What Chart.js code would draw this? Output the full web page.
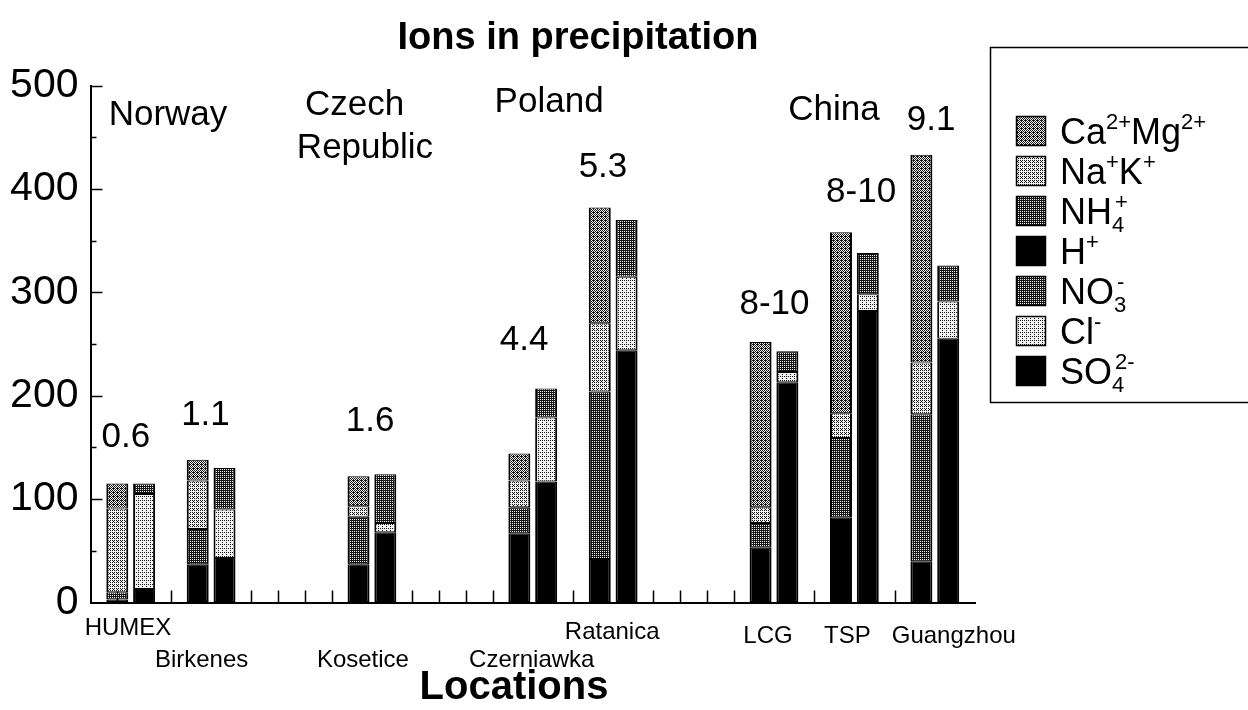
<!DOCTYPE html>
<html>
<head>
<meta charset="utf-8">
<script src="https://cdn.jsdelivr.net/npm/chart.js@4.4.0/dist/chart.umd.min.js"></script>
<style>
  html, body { margin: 0; padding: 0; background: #fff; }
  #wrap { width: 1248px; height: 710px; position: relative; }
</style>
</head>
<body>
<div id="wrap"><canvas id="c" width="1248" height="710"></canvas></div>
<script>
// ---- data -------------------------------------------------------------
const locations = ['HUMEX', 'Birkenes', 'Kosetice', 'Czerniawka', 'Ratanica', 'LCG', 'TSP', 'Guangzhou'];

// cations, bottom to top of the left bar of each site
const hPlus = [3, 37, 37, 67, 42, 53, 82, 40];
const nh4   = [7, 34, 46, 25, 162, 24, 77, 142];
const naK   = [81, 47, 10, 26, 66, 15, 24, 50];
const caMg  = [24, 20, 29, 26, 112, 160, 175, 201];

// anions, bottom to top of the right bar of each site
const so4 = [13, 43, 68, 117, 244, 213, 282, 255];
const cl  = [92, 47, 9, 62, 71, 10, 16, 36];
const no3 = [10, 40, 47, 28, 55, 20, 40, 35];

const siteNotes = ['0.6', '1.1', '1.6', '4.4', '5.3', '8-10', '8-10', '9.1'];
const regionNames = ['Norway', 'Czech', 'Republic', 'Poland', 'China'];
const yTickValues = [0, 100, 200, 300, 400, 500];

// ---- layout -----------------------------------------------------------
const FONT = "'Liberation Sans', Arial, Helvetica, sans-serif";
const gapSlots = [1, 1, 4, 4, 1, 4, 1, 1];   // empty axis slots before each site
const trailingSlots = 1;

const labels = [];
const cationAt = [];
locations.forEach((loc, i) => {
  for (let g = 0; g < gapSlots[i]; g++) labels.push('');
  cationAt.push(labels.length);
  labels.push(loc + ' cations');
  labels.push(loc + ' anions');
});
for (let g = 0; g < trailingSlots; g++) labels.push('');

function spread(values, side) {
  const arr = new Array(labels.length).fill(null);
  values.forEach((v, i) => { arr[cationAt[i] + side] = v; });
  return arr;
}

// ordered-dither tiles give the stippled halftone greys
const bayer = [0, 8, 2, 10, 12, 4, 14, 6, 3, 11, 1, 9, 15, 7, 13, 5];
const mainCtx = document.getElementById('c').getContext('2d');
function stipple(darkCount) {
  const t = document.createElement('canvas');
  t.width = t.height = 4;
  const g = t.getContext('2d');
  g.fillStyle = '#f2f2f2';
  g.fillRect(0, 0, 4, 4);
  g.fillStyle = '#151515';
  for (let i = 0; i < 16; i++) if (bayer[i] < darkCount) g.fillRect(i % 4, Math.floor(i / 4), 1, 1);
  return mainCtx.createPattern(t, 'repeat');
}
const fills = {
  caMg: stipple(9),
  naK: stipple(5),
  nh4: stipple(12),
  h: '#000',
  no3: stipple(12),
  cl: stipple(3),
  so4: '#000'
};

const datasets = [
  { key: 'h',    label: 'H⁺',        data: spread(hPlus, 0), backgroundColor: fills.h },
  { key: 'nh4',  label: 'NH₄⁺',      data: spread(nh4, 0),   backgroundColor: fills.nh4 },
  { key: 'naK',  label: 'Na⁺K⁺',     data: spread(naK, 0),   backgroundColor: fills.naK },
  { key: 'caMg', label: 'Ca²⁺Mg²⁺',  data: spread(caMg, 0),  backgroundColor: fills.caMg },
  { key: 'so4',  label: 'SO₄²⁻',     data: spread(so4, 1),   backgroundColor: fills.so4 },
  { key: 'cl',   label: 'Cl⁻',       data: spread(cl, 1),    backgroundColor: fills.cl },
  { key: 'no3',  label: 'NO₃⁻',      data: spread(no3, 1),   backgroundColor: fills.no3 }
];

// legend entries, top to bottom, with ^{} superscripts and _{} subscripts
const legendOrder = ['caMg', 'naK', 'nh4', 'h', 'no3', 'cl', 'so4'];
const legendMarkup = {
  caMg: 'Ca^{2+}Mg^{2+}', naK: 'Na^{+}K^{+}', nh4: 'NH_{4}^{+}', h: 'H^{+}',
  no3: 'NO_{3}^{-}', cl: 'Cl^{-}', so4: 'SO_{4}^{2-}'
};

// text anchors: category-index offsets and value heights
const noteDx = [0.32, 0.29, 0.43, 0.18, 0.12, 0.52, 0.75, 0.36];
const noteY  = [160, 181, 175, 254, 421, 288, 397, 466];
const regionAnchors = [[2.89, 471], [9.85, 481], [10.24, 439], [17.11, 484], [27.74, 476]];
const siteLabelDx = [-2.7, -9.5, -9, -1, -1, -6, -7, 19];
const siteLabelRow = [628, 660, 660, 660, 632, 636, 636, 636];

function parseMarkup(s) {
  const parts = [];
  const re = /(\^|_)\{([^}]*)\}|([^\^_]+)/g;
  let m;
  while ((m = re.exec(s))) {
    if (m[3]) parts.push({ t: m[3], k: 'n' });
    else parts.push({ t: m[2], k: m[1] === '^' ? 'sup' : 'sub' });
  }
  return parts;
}

const decorations = {
  id: 'decorations',
  beforeDatasetsDraw(chart) {
    const { ctx, chartArea: a, scales: { x, y } } = chart;
    ctx.save();
    ctx.strokeStyle = '#000';
    ctx.lineWidth = 1.5;
    ctx.beginPath();
    for (let i = 1; i < labels.length - 1; i++) {
      const px = Math.round(x.getPixelForValue(i)) + 0.5;
      ctx.moveTo(px, a.bottom);
      ctx.lineTo(px, a.bottom - 12);
    }
    for (let v = 50; v <= 500; v += 50) {
      const py = Math.round(y.getPixelForValue(v)) + 0.5;
      ctx.moveTo(a.left, py);
      ctx.lineTo(a.left + (v % 100 === 0 ? 12 : 6), py);
    }
    ctx.stroke();
    ctx.restore();
  },
  afterDraw(chart) {
    const { ctx, scales: { x, y } } = chart;
    ctx.save();
    ctx.fillStyle = '#000';
    ctx.textAlign = 'center';
    ctx.textBaseline = 'middle';

    // title and axis name
    ctx.font = `bold 38px ${FONT}`;
    ctx.fillText('Ions in precipitation', 578, 39);
    ctx.font = `bold 40px ${FONT}`;
    ctx.fillText('Locations', 514, 688);

    // region names
    ctx.font = `35px ${FONT}`;
    regionNames.forEach((name, i) => {
      const [ix, v] = regionAnchors[i];
      ctx.fillText(name, x.getPixelForValue(ix), y.getPixelForValue(v));
    });

    // per-site notes above the bars
    siteNotes.forEach((note, i) => {
      ctx.fillText(note, x.getPixelForValue(cationAt[i] + noteDx[i]), y.getPixelForValue(noteY[i]));
    });

    // site names under the axis
    ctx.font = `24px ${FONT}`;
    locations.forEach((loc, i) => {
      const mid = (x.getPixelForValue(cationAt[i]) + x.getPixelForValue(cationAt[i] + 1)) / 2;
      ctx.fillText(loc, mid + siteLabelDx[i], siteLabelRow[i]);
    });

    // legend box
    ctx.lineWidth = 1.5;
    ctx.strokeStyle = '#000';
    ctx.strokeRect(990.5, 47.5, 300, 355);
    ctx.textAlign = 'left';
    ctx.textBaseline = 'alphabetic';
    legendOrder.forEach((key, r) => {
      const ds = chart.data.datasets.find(d => d.key === key);
      const cy = 131 + r * 40;
      ctx.fillStyle = ds.backgroundColor;
      ctx.fillRect(1016, cy - 15, 30, 30);
      ctx.strokeRect(1016.5, cy - 14.5, 29, 29);
      ctx.fillStyle = '#000';
      let px = 1060;
      let subStart = null;
      const base = cy + 13;
      parseMarkup(legendMarkup[key]).forEach(p => {
        if (p.k === 'n') {
          ctx.font = `36px ${FONT}`;
          ctx.fillText(p.t, px, base);
          px += ctx.measureText(p.t).width;
          subStart = null;
        } else if (p.k === 'sub') {
          ctx.font = `22px ${FONT}`;
          subStart = px;
          ctx.fillText(p.t, px, base + 8);
          px += ctx.measureText(p.t).width;
        } else {
          ctx.font = `22px ${FONT}`;
          const sx = subStart !== null ? subStart + 3 : px;
          ctx.fillText(p.t, sx, base - 15);
          px = Math.max(px, sx + ctx.measureText(p.t).width);
          subStart = null;
        }
      });
    });
    ctx.restore();
  }
};

Chart.defaults.font.family = FONT;
Chart.defaults.color = '#000';

new Chart(document.getElementById('c'), {
  type: 'bar',
  data: { labels, datasets },
  options: {
    responsive: false,
    animation: false,
    events: [],
    layout: { padding: { top: 85.5, right: 273, bottom: 0, left: 0 } },
    datasets: {
      bar: {
        categoryPercentage: 1,
        barPercentage: 0.82,
        borderColor: '#000',
        borderWidth: { left: 2, right: 2, top: 1, bottom: 1 },
        borderSkipped: false
      }
    },
    plugins: {
      legend: { display: false },
      title: { display: false },
      tooltip: { enabled: false }
    },
    scales: {
      x: {
        type: 'category',
        stacked: true,
        offset: false,
        grid: { drawOnChartArea: false, drawTicks: false },
        border: { display: true, color: '#000', width: 2 },
        ticks: { display: false },
        afterFit(scale) { scale.height = 107.5; }
      },
      y: {
        stacked: true,
        min: 0,
        max: 500,
        grid: { drawOnChartArea: false, drawTicks: false },
        border: { display: true, color: '#000', width: 2 },
        afterBuildTicks(scale) { scale.ticks = yTickValues.map(v => ({ value: v })); },
        ticks: { font: { size: 41 }, color: '#000', padding: 12 },
        afterFit(scale) { scale.width = 90.5; }
      }
    }
  },
  plugins: [decorations]
});
</script>
</body>
</html>
